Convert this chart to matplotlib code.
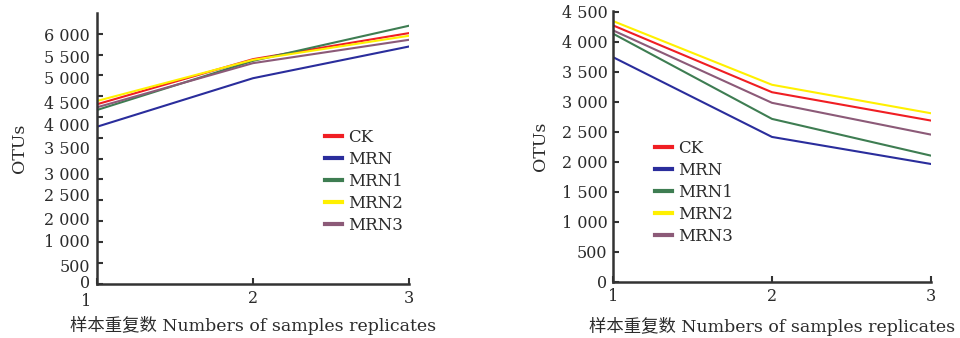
import matplotlib
matplotlib.use("Agg")
import matplotlib.pyplot as plt
import matplotlib.transforms as mtransforms
import numpy as np

plt.rcParams['font.family'] = ['DejaVu Serif', 'Noto Sans CJK SC']

# ---- data ----
x_reps = [1, 2, 3]
series_names = ["CK", "MRN", "MRN1", "MRN2", "MRN3"]
series_colors = ["#f01e23", "#2a2d9c", "#3e7d52", "#fff000", "#8c5a78"]

left_CK = [4307, 5391, 6017]
left_MRN = [3767, 4933, 5695]
left_MRN1 = [4169, 5350, 6194]
left_MRN2 = [4386, 5374, 5953]
left_MRN3 = [4234, 5295, 5856]

right_CK = [4272, 3157, 2684]
right_MRN = [3742, 2411, 1960]
right_MRN1 = [4134, 2712, 2099]
right_MRN2 = [4344, 3281, 2806]
right_MRN3 = [4189, 2980, 2450]

# left panel's printed tick labels (as shown in the source figure) and where they sit
left_ylabel_text = ["500", "1 000", "2 000", "2 500", "3 000", "3 500",
                    "4 000", "4 500", "5 000", "5 500", "6 000"]
left_ylabel_at = [430, 1040, 1570, 2140, 2650, 3280, 3810, 4340, 4940, 5450, 5980]
left_tick_marks = list(range(0, 6001, 500))

right_ticks = list(range(0, 4501, 500))
right_tick_text = ["0", "500", "1 000", "1 500", "2 000", "2 500", "3 000",
                   "3 500", "4 000", "4 500"]

xlabel_text = "样本重复数 Numbers of samples replicates"

left_series = [left_CK, left_MRN, left_MRN1, left_MRN2, left_MRN3]
right_series = [right_CK, right_MRN, right_MRN1, right_MRN2, right_MRN3]

TXT = "#2b2b2b"
TICKFS = 11.5
fig = plt.figure(figsize=(9.6, 3.38), dpi=100)

axL = fig.add_axes([97/960, (338-283.5)/338, (409-97)/960, (283.5-13)/338])
axR = fig.add_axes([613/960, (338-281.5)/338, (931-613)/960, (281.5-10.5)/338])


def style(ax, xpad):
    for s in ["top", "right"]:
        ax.spines[s].set_visible(False)
    for s in ["left", "bottom"]:
        ax.spines[s].set_linewidth(1.8)
        ax.spines[s].set_color("#333333")
    ax.tick_params(axis="both", which="major", direction="in", length=4,
                   width=1.5, color="#333333", labelsize=TICKFS, labelcolor=TXT)
    ax.set_xlim(1, 3)
    ax.set_xticks(x_reps)
    ax.set_xticklabels([str(v) for v in x_reps])
    ax.tick_params(axis="x", pad=5)
    ax.set_xlabel(xlabel_text, fontsize=12.5, color=TXT, labelpad=xpad)
    ax.set_ylabel("OTUs", fontsize=12.5, color=TXT)


# left panel
for vals, name, c in zip(left_series, series_names, series_colors):
    axL.plot(x_reps, vals, color=c, lw=1.5, label=name, solid_joinstyle="round")
style(axL, 4)
axL.set_ylim(0, 6500)
axL.set_yticks(left_tick_marks)
axL.set_yticklabels(["0"] + [""] * (len(left_tick_marks) - 1))
axL.tick_params(axis="y", which="major", pad=5)
axL.set_yticks(left_ylabel_at, minor=True)
axL.set_yticklabels(left_ylabel_text, minor=True)
axL.tick_params(axis="y", which="minor", length=0, pad=5, labelsize=TICKFS, labelcolor=TXT)
axL.yaxis.set_label_coords(-0.222, 0.5)
# the "1" under the left panel sits a bit left of the axis corner
lab1 = axL.get_xticklabels()[0]
lab1.set_transform(lab1.get_transform() + mtransforms.ScaledTranslation(-11/100, -3/100, fig.dpi_scale_trans))
lab0 = axL.get_yticklabels()[0]
lab0.set_transform(lab0.get_transform() + mtransforms.ScaledTranslation(0, 1.5/100, fig.dpi_scale_trans))

# right panel
for vals, name, c in zip(right_series, series_names, series_colors):
    axR.plot(x_reps, vals, color=c, lw=1.5, label=name, solid_joinstyle="round")
style(axR, 8)
axR.set_ylim(0, 4520)
axR.set_yticks(right_ticks)
axR.set_yticklabels(right_tick_text)
axR.tick_params(axis="y", pad=4)
axR.yaxis.set_label_coords(-0.20, 0.5)

leg_kw = dict(loc="upper left", frameon=False, fontsize=12, handlelength=1.0,
              handletextpad=0.4, labelspacing=0.3, borderpad=0, borderaxespad=0,
              labelcolor=TXT)
lgL = axL.legend(bbox_to_anchor=(325/960, (338-129)/338),
                 bbox_transform=fig.transFigure, **leg_kw)
lgR = axR.legend(bbox_to_anchor=(655/960, (338-139.5)/338),
                 bbox_transform=fig.transFigure, **leg_kw)
for lg in (lgL, lgR):
    for h in lg.get_lines():
        h.set_linewidth(3)

fig.savefig("out.png", dpi=100)
